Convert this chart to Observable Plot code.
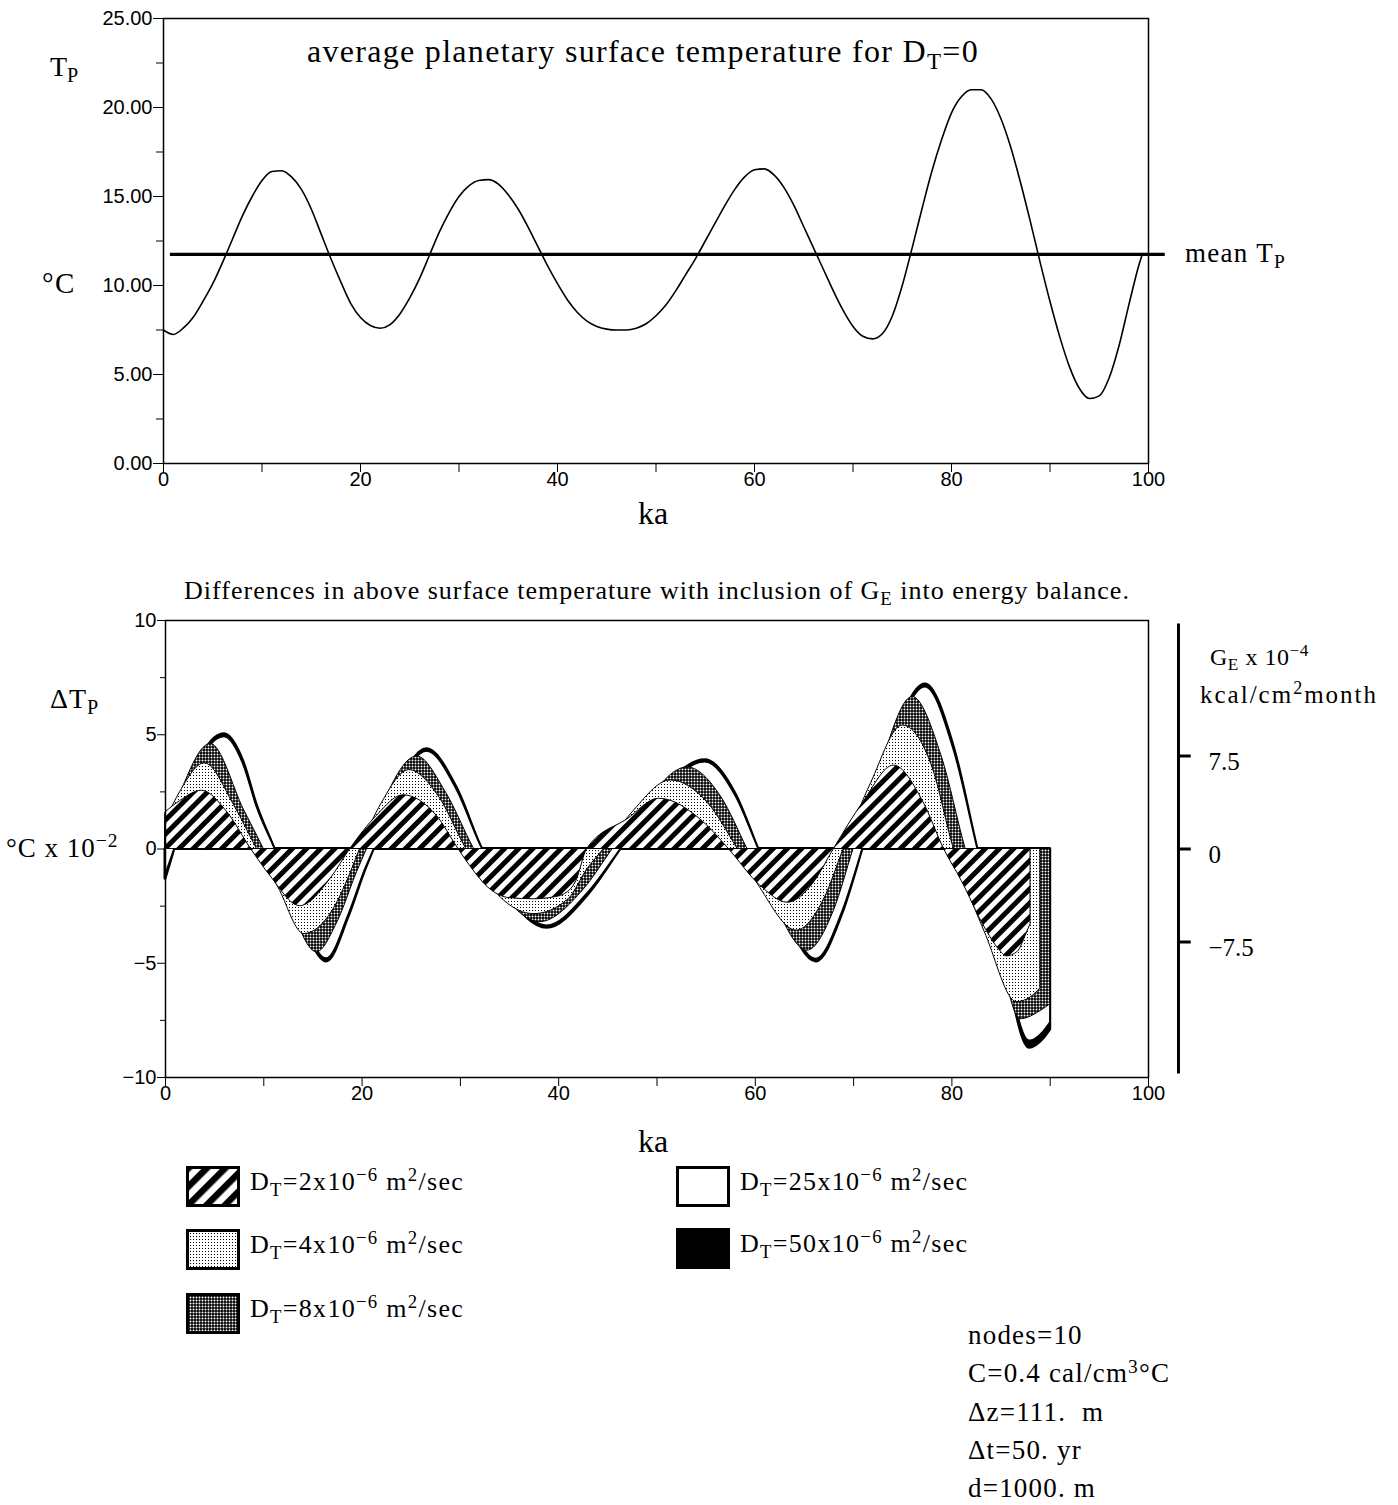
<!DOCTYPE html>
<html><head><meta charset="utf-8">
<script src="https://cdn.jsdelivr.net/npm/d3@7"></script>
<script src="https://cdn.jsdelivr.net/npm/@observablehq/plot@0.6"></script>
<style>
body{margin:0;background:#fff;}
#wrap{position:relative;width:1398px;height:1505px;font-family:"Liberation Serif","Times New Roman",serif;color:#000;overflow:hidden;}
.t{position:absolute;white-space:nowrap;line-height:1;}
.c{transform:translateX(-50%);}
.sub{font-size:0.72em;position:relative;top:0.3em;}
.sup{font-size:0.72em;position:relative;top:-0.5em;}
.sw{position:absolute;}
</style></head><body>
<svg width="0" height="0" style="position:absolute">
 <defs>
  <pattern id="hatch" width="10" height="10" patternUnits="userSpaceOnUse" patternTransform="rotate(45)">
   <rect width="10" height="10" fill="#fff"/><rect width="5" height="10" fill="#000"/>
  </pattern>
  <pattern id="hatchL" width="13" height="13" patternUnits="userSpaceOnUse" patternTransform="rotate(45)">
   <rect width="13" height="13" fill="#fff"/><rect width="6.5" height="13" fill="#000"/>
  </pattern>
  <pattern id="dots" width="3" height="3" patternUnits="userSpaceOnUse">
   <rect width="3" height="3" fill="#fff"/><rect x="1" y="1" width="1" height="1" fill="#000"/>
  </pattern>
  <pattern id="checker" width="3" height="3" patternUnits="userSpaceOnUse">
   <rect width="3" height="3" fill="#000"/><circle cx="1.5" cy="1.5" r="1" fill="#fff"/>
  </pattern>
 </defs>
</svg>
<div id="wrap"></div>
<script>
// ---------------- data: top chart ----------------
const tpKa = [0,1,2,3,4,5,6,7,8,9,10,11,12,13,14,15,16,17,18,19,20,21,22,23,24,25,26,27,28,29,30,31,32,33,34,35,36,37,38,39,40,41,42,43,44,45,46,47,48,49,50,51,52,53,54,55,56,57,58,59,60,61,62,63,64,65,66,67,68,69,70,71,72,73,74,75,76,77,78,79,80,81,82,83,84,85,86,87,88,89,90,91,92,93,94,95,96,97,98,99,99.4];
const tpVal = [7.5,7.25,7.6,8.2,9.1,10.1,11.3,12.6,13.9,15.0,15.9,16.4,16.45,16.1,15.4,14.3,12.9,11.5,10.2,9.0,8.2,7.75,7.6,7.8,8.4,9.3,10.4,11.7,13.0,14.1,15.0,15.6,15.9,15.95,15.7,15.1,14.3,13.3,12.2,11.1,10.1,9.2,8.5,8.0,7.7,7.55,7.5,7.5,7.6,7.85,8.3,8.9,9.7,10.6,11.5,12.5,13.5,14.5,15.4,16.1,16.5,16.55,16.2,15.5,14.5,13.3,12.1,10.9,9.7,8.6,7.7,7.15,7.0,7.3,8.3,10.0,12.1,14.3,16.4,18.2,19.7,20.6,21.0,21.0,20.5,19.4,17.8,15.8,13.6,11.3,9.1,7.1,5.4,4.2,3.65,3.8,4.8,6.6,8.9,11.1,11.8];
const meanTp = 11.75;
const meanKaStart = 0.7, meanKaEnd = 101.7;
const topYTicks = [0,5,10,15,20,25];
const topYMinor = [2.5,7.5,12.5,17.5,22.5];
const xLabelTicks = [0,20,40,60,80,100];
const xMinorTicks = [10,30,50,70,90];

// ---------------- data: bottom chart (delta T_P, deg C x 1e-2) ----------------
const dt2Ka = [0,1.5,3.7,6.3,8.7,10.7,13.7,16.8,18.8,21.5,24.2,27.6,29.8,31.0,33.0,35.0,37.5,39.5,40.5,41.8,42.9,47.0,50.2,54.8,57.3,60.5,63.3,66.0,68.0,71.0,74.1,77.1,79.2,81.0,83.3,84.8,85.6,86.7,87.6,88.0];
const dt2V  = [1.6,2.1,2.55,1.6,0,-1.2,-2.5,-1.3,0,1.45,2.35,1.45,0,-0.75,-1.75,-2.15,-2.2,-2.12,-2.0,-1.4,0,1.3,2.2,1.15,0,-1.6,-2.35,-1.45,0,2.05,3.65,2.05,0,-1.4,-3.4,-4.4,-4.7,-4.5,-3.7,-3.3];

const dt4Ka = [0,1.5,4.0,7.0,9.3,11.5,14.1,17.0,18.5,19.8,22.0,24.8,27.8,30.6,33.0,37.5,41.0,42.9,44.6,47.5,51.4,55.2,58.2,60.5,64.2,67.0,69.0,71.8,75.0,78.0,80.2,83.5,86.6,88.0,89.0];
const dt4V  = [1.2,2.5,3.75,1.9,0,-1.7,-3.72,-2.7,-1.4,0,2.0,3.45,2.3,0,-1.6,-2.85,-2.2,-0.9,0,1.6,3.0,2.0,0,-1.7,-3.57,-2.2,0,2.9,5.4,3.6,0,-3.8,-6.7,-6.5,-6.1];

const dt8Ka = [0,1.5,4.6,8.0,10.0,12.2,15.4,17.5,19.5,20.5,22.5,25.6,28.5,31.4,34.0,38.1,42.5,45.5,48.0,53.1,56.5,59.2,61.5,65.3,68.0,70.0,72.5,76.0,79.0,81.4,84.5,87.0,89.0,90.0];
const dt8V  = [0.6,2.4,4.6,1.7,0,-2.0,-4.52,-3.2,-1.0,0,2.3,4.05,2.5,0,-1.8,-3.2,-1.8,0,1.5,3.57,2.3,0,-2.0,-4.45,-2.7,0,3.3,6.65,4.0,0,-4.0,-7.45,-7.1,-6.8];

const dt25Ka = [0,0.9,2.6,6.0,7.9,9.3,11.1,13.3,16.4,18.6,20.3,21.2,23.5,26.6,29.6,32.2,35.0,38.8,43.0,46.3,49.5,54.9,58.0,60.3,62.5,66.2,68.8,70.9,73.5,77.3,80.2,82.6,85.3,87.9,89.3,90.0];
const dt25V  = [-1.1,0,2.7,4.89,3.7,1.8,0,-2.3,-4.79,-2.9,-0.9,0,2.4,4.26,2.6,0,-2.0,-3.35,-1.9,0,1.9,3.79,2.3,0,-2.2,-4.81,-2.8,0,3.8,7.07,4.3,0,-4.6,-8.39,-8.0,-7.6];

const dt50Ka = [0,0.9,2.6,6.0,7.9,9.3,11.1,13.3,16.4,18.6,20.3,21.2,23.5,26.6,29.6,32.2,35.0,38.8,43.0,46.3,49.5,54.9,58.0,60.3,62.5,66.2,68.8,70.9,73.5,77.3,80.2,82.6,85.3,87.9,89.3,90.0];
const dt50V  = [-1.3,0,2.85,5.02,3.85,1.9,0,-2.4,-4.92,-3.0,-0.95,0,2.5,4.36,2.7,0,-2.1,-3.45,-2.0,0,2.0,3.88,2.4,0,-2.3,-4.92,-2.9,0,3.95,7.2,4.45,0,-4.75,-8.7,-8.3,-7.9];

const botYTicks = [-10,-5,0,5,10];
const botYMinor = [-7.5,-2.5,2.5,7.5];
const geTicks = [7.5,0,-7.5];          // G_E x 1e-4 kcal/cm2 month
const geToDT = 4.07 / 7.5;             // G_E units -> delta T units on the shared vertical scale
const geAxisHalf = 9.85;

const legendItems = [
  {dt: "2",  fill: "url(#hatchL)"},
  {dt: "4",  fill: "url(#dots)"},
  {dt: "8",  fill: "url(#checker)"},
  {dt: "25", fill: "#fff"},
  {dt: "50", fill: "#000"}
];
const params = ["nodes=10", "C=0.4 cal/cm<span class='sup'>3</span>°C", "Δz=111.&nbsp; m", "Δt=50. yr", "d=1000. m"];

// ---------------- build ----------------
const rows = (ka, v) => ka.map((k, i) => ({ka: k, v: v[i]}));
const minus = d => (d < 0 ? "\u2212" : "") + Math.abs(d);
const wrap = document.getElementById("wrap");
const sans = "'Liberation Sans', Arial, sans-serif";
const serif = "'Liberation Serif', 'Times New Roman', serif";

const topPlot = Plot.plot({
  width: 1398, height: 500,
  marginLeft: 163, marginRight: 250, marginTop: 18, marginBottom: 37,
  x: {domain: [0, 100]},
  y: {domain: [0, 25]},
  style: {fontFamily: sans, fontSize: "20px", color: "#000", background: "transparent", overflow: "visible"},
  marks: [
    Plot.axisY({ticks: topYTicks, tickSize: 10, tickPadding: 1, tickFormat: d3.format(".2f"), label: null}),
    Plot.axisY({ticks: topYMinor, tickSize: 7, tickFormat: () => "", label: null}),
    Plot.axisX({ticks: xMinorTicks, tickSize: 9, tickFormat: () => "", label: null}),
    Plot.axisX({ticks: xLabelTicks, tickSize: 9, tickPadding: -1, tickFormat: d => d, label: null}),
    Plot.frame({stroke: "#000", strokeWidth: 1.5}),
    Plot.line(rows(tpKa, tpVal), {x: "ka", y: "v", stroke: "#000", strokeWidth: 1.6, curve: "monotone-x"}),
    Plot.ruleY([meanTp], {x1: meanKaStart, x2: meanKaEnd, stroke: "#000", strokeWidth: 3.2})
  ]
});
topPlot.style.position = "absolute"; topPlot.style.top = "0px"; topPlot.style.left = "0px";
wrap.appendChild(topPlot);

const geAxisKa = 103.05;
const botPlot = Plot.plot({
  width: 1398, height: 520,
  marginLeft: 165, marginRight: 250, marginTop: 20, marginBottom: 43,
  x: {domain: [0, 100]},
  y: {domain: [-10, 10]},
  style: {fontFamily: sans, fontSize: "20px", color: "#000", background: "transparent", overflow: "visible"},
  marks: [
    Plot.axisY({ticks: botYTicks, tickSize: 8, tickPadding: 1, tickFormat: minus, label: null}),
    Plot.axisY({ticks: botYMinor, tickSize: 5, tickFormat: () => "", label: null}),
    Plot.axisX({ticks: xMinorTicks, tickSize: 9, tickFormat: () => "", label: null}),
    Plot.axisX({ticks: xLabelTicks, tickSize: 9, tickPadding: -1, tickFormat: d => d, label: null}),
    Plot.areaY(rows(dt50Ka, dt50V), {x: "ka", y: "v", fill: "#000", stroke: "#000", strokeWidth: 3, strokeLinejoin: "round", curve: "monotone-x"}),
    Plot.areaY(rows(dt25Ka, dt25V), {x: "ka", y: "v", fill: "#fff", stroke: "#000", strokeWidth: 1.2, curve: "monotone-x"}),
    Plot.areaY(rows(dt8Ka, dt8V), {x: "ka", y: "v", fill: "url(#checker)", stroke: "#000", strokeWidth: 1, curve: "monotone-x"}),
    Plot.areaY(rows(dt4Ka, dt4V), {x: "ka", y: "v", fill: "url(#dots)", stroke: "#000", strokeWidth: 1, curve: "monotone-x"}),
    Plot.areaY(rows(dt2Ka, dt2V), {x: "ka", y: "v", fill: "url(#hatch)", stroke: "#000", strokeWidth: 1, curve: "monotone-x"}),
    Plot.frame({stroke: "#000", strokeWidth: 1.5}),
    Plot.ruleX([geAxisKa], {y1: -geAxisHalf, y2: geAxisHalf, stroke: "#000", strokeWidth: 3}),
    Plot.ruleY(geTicks, {y: d => d * geToDT, x1: geAxisKa, x2: geAxisKa + 1.3, stroke: "#000", strokeWidth: 3}),
    Plot.text(geTicks, {x: geAxisKa, y: d => d * geToDT, text: minus, dx: 30, dy: 6, textAnchor: "start", fontFamily: serif, fontSize: 25})
  ]
});
botPlot.style.position = "absolute"; botPlot.style.top = "600px"; botPlot.style.left = "0px";
wrap.appendChild(botPlot);

// ---------------- text ----------------
function txt(html, left, top, size, center, spacing) {
  const d = document.createElement("div");
  d.className = "t" + (center ? " c" : "");
  d.style.left = left + "px"; d.style.top = top + "px"; d.style.fontSize = size + "px";
  if (spacing) d.style.letterSpacing = spacing + "px";
  d.innerHTML = html;
  wrap.appendChild(d);
  return d;
}
txt("average planetary surface temperature for D<span class='sub'>T</span>=0", 643, 35, 32, true, 1.3);
txt("T<span class='sub'>P</span>", 50, 53, 28);
txt("°C", 42, 269, 29, false, 1.5);
txt("mean T<span class='sub'>P</span>", 1185, 240, 27, false, 1.3);
txt("ka", 653, 497, 32, true);
txt("Differences in above surface temperature with inclusion of G<span class='sub'>E</span> into energy balance.", 657, 578, 26, true, 1.0);
txt("ΔT<span class='sub'>P</span>", 50, 685, 28, false, 1);
txt("°C x 10<span class='sup'>−2</span>", 6, 835, 27, false, 1);
txt("G<span class='sub'>E</span> x 10<span class='sup'>−4</span>", 1210, 645, 24, false, 0.5);
txt("kcal/cm<span class='sup'>2</span>month", 1200, 682, 25, false, 2);

// legend
const legPos = [[186, 1166], [186, 1229], [186, 1293], [676, 1166], [676, 1228]];
legendItems.forEach((it, i) => {
  const [lx, ly] = legPos[i];
  const s = d3.create("svg").attr("class", "sw").attr("width", 54).attr("height", 41)
    .style("left", lx + "px").style("top", ly + "px");
  s.append("rect").attr("x", 1.5).attr("y", 1.5).attr("width", 51).attr("height", 38)
    .attr("fill", it.fill).attr("stroke", "#000").attr("stroke-width", 3);
  wrap.appendChild(s.node());
  txt("D<span class='sub'>T</span>=" + it.dt + "x10<span class='sup'>−6</span> m<span class='sup'>2</span>/sec", lx + 64, ly + 3, 26, false, 1.3);
});
txt("ka", 653, 1125, 32, true);

// parameters
params.forEach((p, i) => txt(p, 968, 1322 + i * 38.3, 27, false, 1.2));
</script>
</body></html>
